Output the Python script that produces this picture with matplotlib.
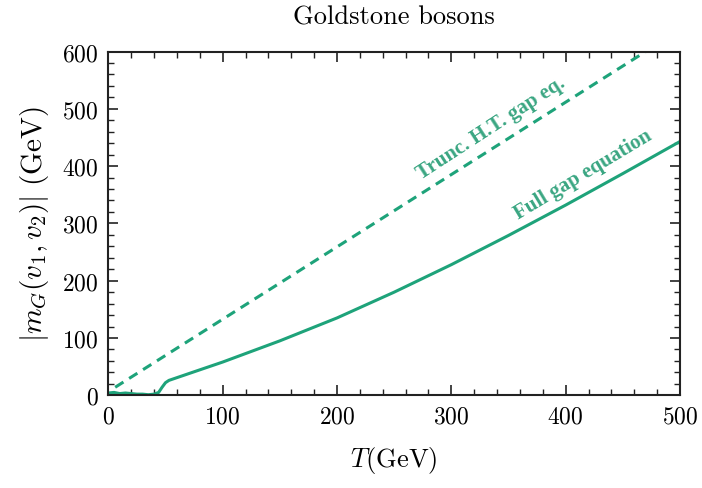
import matplotlib
matplotlib.use("Agg")
import matplotlib.pyplot as plt
from matplotlib.ticker import MultipleLocator

plt.rcParams["font.family"] = "serif"
plt.rcParams["font.serif"] = ["cmr10", "DejaVu Serif"]
plt.rcParams["mathtext.fontset"] = "cm"
plt.rcParams["axes.formatter.use_mathtext"] = True

GREEN = "#1ea37a"

# full gap equation solution
T_full = [0, 5, 10, 15, 20, 25, 30, 35, 40, 44, 47, 50, 53, 75, 100, 150, 200,
          250, 300, 350, 400, 450, 500]
m_full = [4, 5, 3, 4, 3, 2, 2, 1, 2, 5, 14, 22, 26, 41, 58, 95, 135,
          180, 228, 279, 332, 387, 443]

# truncated high-temperature gap equation
T_trunc = [6, 470]
m_trunc = [14, 600]

fig = plt.figure(figsize=(7.02, 4.89), dpi=100)
ax = fig.add_axes([0.1543, 0.1896, 0.8144, 0.703])

ax.plot(T_full, m_full, color=GREEN, lw=2.2)
ax.plot(T_trunc, m_trunc, color=GREEN, lw=2.2, ls=(0, (3.2, 2.2)))

ax.set_xlim(0, 500)
ax.set_ylim(0, 600)
ax.xaxis.set_major_locator(MultipleLocator(100))
ax.xaxis.set_minor_locator(MultipleLocator(20))
ax.yaxis.set_major_locator(MultipleLocator(100))
ax.yaxis.set_minor_locator(MultipleLocator(20))
ax.tick_params(which="both", direction="in", top=True, right=True,
               labelsize=17, color="#222", pad=7)
ax.tick_params(which="major", length=7, width=1.2)
ax.tick_params(which="minor", length=4, width=1.0)
for s in ax.spines.values():
    s.set_linewidth(1.5)
    s.set_color("#222")

ax.set_title("Goldstone bosons", fontsize=19, pad=20)
ax.set_xlabel(r"$T(\mathrm{GeV})$", fontsize=19, labelpad=12)
ax.set_ylabel(r"$|m_G(v_1,v_2)|\ (\mathrm{GeV})$", fontsize=21, labelpad=8)

lab = dict(color="#3aa682", fontsize=15, fontweight="bold",
           family="Liberation Serif", ha="center", va="center")
ax.text(335, 468, "Trunc. H.T. gap eq.", rotation=33, **lab)
ax.text(415, 386, "Full gap equation", rotation=31, **lab)

fig.savefig("out.png", dpi=100)
